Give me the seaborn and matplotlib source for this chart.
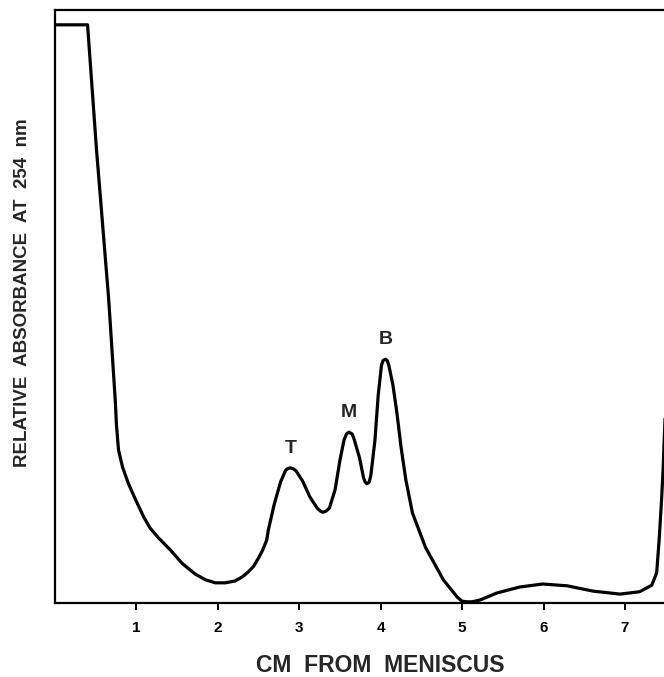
import numpy as np
import pandas as pd
import matplotlib
matplotlib.use("Agg")
import matplotlib.pyplot as plt
import seaborn as sns

# Distance from meniscus (cm) and relative absorbance at 254 nm (arbitrary units, 0-100)
cm = [0.00, 0.40, 0.51, 0.56, 0.66, 0.74, 0.755, 0.78, 0.83, 0.90, 0.99, 1.09, 1.17, 1.27,
      1.42, 1.56, 1.72, 1.85, 1.97, 2.09, 2.21, 2.30, 2.37, 2.44, 2.50, 2.55, 2.60, 2.62,
      2.69, 2.77, 2.83, 2.85, 2.89, 2.93, 2.96, 3.04, 3.13, 3.22, 3.26, 3.29, 3.33, 3.37,
      3.44, 3.50, 3.55, 3.58, 3.61, 3.65, 3.67, 3.74, 3.79, 3.81, 3.83, 3.86, 3.88, 3.93,
      3.97, 4.01, 4.03, 4.06, 4.08, 4.10, 4.15, 4.20, 4.25, 4.31, 4.39, 4.55, 4.77, 4.94,
      5.00, 5.06, 5.12, 5.22, 5.43, 5.71, 5.99, 6.29, 6.61, 6.94, 7.18, 7.33, 7.39, 7.42,
      7.45, 7.47, 7.51]
absorbance = [97.5, 97.5, 76.4, 68.0, 51.1, 34.2, 30.0, 25.8, 22.9, 20.2, 17.4, 14.5, 12.6, 11.0,
              8.9, 6.7, 4.9, 3.9, 3.4, 3.4, 3.7, 4.4, 5.2, 6.2, 7.6, 8.9, 10.6, 12.3,
              16.5, 20.4, 22.3, 22.6, 22.8, 22.6, 22.3, 20.6, 17.9, 16.0, 15.5, 15.3, 15.5, 16.0,
              19.1, 24.1, 27.5, 28.5, 28.8, 28.5, 27.8, 24.5, 21.1, 20.4, 20.1, 20.4, 21.6, 27.5,
              35.1, 40.1, 40.9, 41.1, 40.9, 40.1, 36.8, 32.0, 26.3, 20.7, 15.2, 9.4, 3.9, 1.0,
              0.3, 0.2, 0.2, 0.5, 1.7, 2.7, 3.2, 2.9, 2.0, 1.5, 1.9, 3.0, 5.1, 10.6,
              17.4, 22.9, 37.6]

peak_labels = ["T", "M", "B"]
peak_cm = [2.89, 3.61, 4.06]
peak_abs = [22.8, 28.8, 41.1]

xticks = [1, 2, 3, 4, 5, 6, 7]
xticklabels = ["1", "2", "3", "4", "5", "6", "7"]

sns.set_theme(style="white")
plt.rcParams["font.family"] = ["Liberation Sans", "DejaVu Sans"]

fig = plt.figure(figsize=(6.64, 6.77), dpi=100)
ax = fig.add_axes([55 / 664, 74 / 677, 609 / 664 + 0.01, 593 / 677])

df = pd.DataFrame({"cm": cm, "absorbance": absorbance})
sns.lineplot(data=df, x="cm", y="absorbance", sort=False, estimator=None,
             color="black", lw=2.3, ax=ax)
ax.lines[0].set_solid_joinstyle("round")

for lab, px, py in zip(peak_labels, peak_cm, peak_abs):
    ax.annotate(lab, (px, py), xytext=(0, 8), textcoords="offset points",
                ha="center", va="bottom", fontsize=14, fontweight="bold")

ax.set_xlim(0, 7.48 + 0.01 * 664 / 81.5)
ax.set_ylim(0, 100)
ax.set_xticks(xticks)
ax.set_xticklabels(xticklabels, fontsize=11, fontweight="bold")
ax.set_xticks([2, 5], minor=True)
ax.set_yticks([])
ax.tick_params(axis="x", which="major", direction="out", length=5, width=1.4,
               pad=8, colors="black", bottom=True)
ax.tick_params(axis="x", which="minor", direction="in", length=6, width=1.4,
               bottom=True)

for side in ["left", "bottom", "top"]:
    ax.spines[side].set_visible(True)
    ax.spines[side].set_color("black")
    ax.spines[side].set_linewidth(1.6)
ax.spines["right"].set_visible(False)

ax.set_xlabel("CM  FROM  MENISCUS", fontsize=16.5, fontweight="bold")
ax.xaxis.label.set_verticalalignment("center")
ax.xaxis.set_label_coords(0.529, -0.1046)
ax.set_ylabel("RELATIVE  ABSORBANCE  AT  254  nm", fontsize=13.5, fontweight="bold")
ax.yaxis.label.set_verticalalignment("center")
ax.yaxis.set_label_coords(-0.0525, 0.524)

fig.savefig("out.png", dpi=100)
